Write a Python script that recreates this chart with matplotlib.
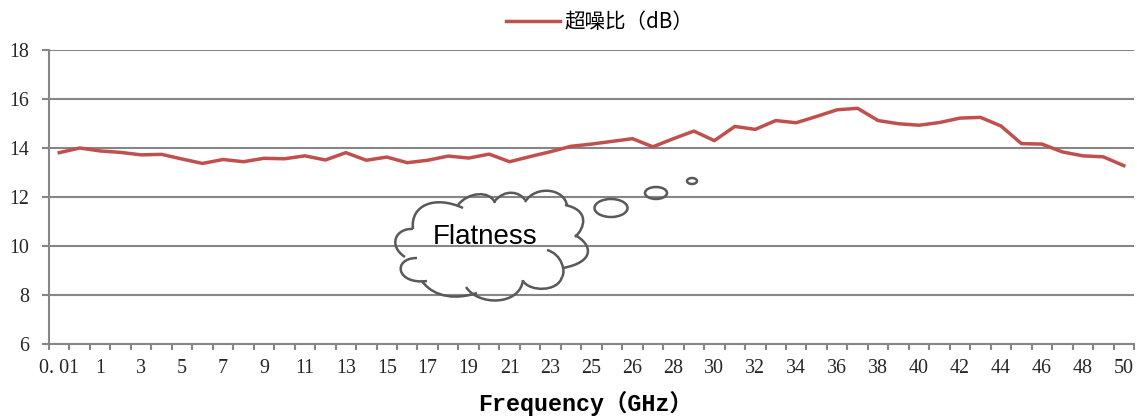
import matplotlib
matplotlib.use('Agg')
import matplotlib.pyplot as plt
from matplotlib.patches import Ellipse, PathPatch
from matplotlib.path import Path

# one value per category, the axis has 53 categories
snr = [13.81, 14.00, 13.88, 13.82, 13.72, 13.74, 13.55, 13.37, 13.53, 13.44,
       13.58, 13.56, 13.68, 13.51, 13.81, 13.50, 13.63, 13.40, 13.50, 13.67,
       13.59, 13.75, 13.44, 13.65, 13.85, 14.07, 14.16, 14.27, 14.38, 14.05,
       14.38, 14.69, 14.30, 14.88, 14.76, 15.12, 15.03, 15.29, 15.56, 15.62,
       15.12, 14.99, 14.93, 15.04, 15.22, 15.25, 14.90, 14.18, 14.16, 13.84,
       13.68, 13.64, 13.28]
x_labels = ['0. 01', '1', '3', '5', '7', '9', '11', '13', '15', '17', '19', '21',
            '23', '25', '26', '28', '30', '32', '34', '36', '38', '40', '42',
            '44', '46', '48', '50']
y_ticks = [6, 8, 10, 12, 14, 16, 18]

# callout outline: start, control, control, end of each lobe, in pixels
cloud_lobes = [
    ((413, 229), (410, 205), (435, 195), (463, 208)),
    ((458, 205), (468, 192), (490, 190), (495, 203)),
    ((494, 202), (505, 188), (520, 192), (525, 200)),
    ((525, 202), (535, 185), (565, 188), (567, 206)),
    ((565, 205), (590, 210), (585, 228), (575, 237)),
    ((575, 235), (593, 245), (595, 262), (563, 268)),
    ((547, 250), (562, 254), (566, 272), (562, 277)),
    ((562, 277), (558, 292), (530, 292), (523, 281)),
    ((523, 280), (520, 306), (478, 306), (466, 287)),
    ((477, 293), (445, 303), (428, 290), (422, 281)),
    ((427, 281), (396, 285), (392, 258), (417, 258)),
    ((405, 257), (388, 246), (395, 228), (413, 229)),
]
bubbles = [(611, 208, 33, 18), (656, 193, 22, 12), (692, 181, 10, 6)]

axis_color = '#868686'
line_color = '#C0504D'
cloud_color = '#595959'

fig = plt.figure(figsize=(11.37, 4.16), dpi=100)
ax = fig.add_axes([49 / 1137, 1 - 344 / 416, (1134 - 49) / 1137, (344 - 50) / 416])

positions = list(range(len(snr)))
ax.plot(positions, snr, color=line_color, lw=2.5, label='超噪比（dB）',
        solid_joinstyle='round', zorder=3)
ax.set_xlim(-0.5, len(snr) - 0.5)
ax.set_ylim(6, 18)

ax.set_yticks(y_ticks)
ax.grid(axis='y', color=axis_color, lw=1.5)
ax.set_axisbelow(True)
ax.set_xticks([p - 0.5 for p in range(len(snr) + 1)])
ax.set_xticklabels([])
ax.set_xticks([0] + [p for p in range(2, 29, 2)] + [p for p in range(30, 53, 2)], minor=True)
ax.set_xticklabels(x_labels, minor=True, family='Liberation Serif', fontsize=14.4, color='#262626')
ax.tick_params(axis='x', which='major', length=4.5, width=1.5, color=axis_color)
ax.tick_params(axis='x', which='minor', length=0, pad=11)
ax.tick_params(axis='y', length=5, width=1.5, color=axis_color, pad=9)
for lab in ax.get_yticklabels():
    lab.set_family('Liberation Serif')
    lab.set_fontsize(14.4)
    lab.set_color('#262626')

for side in ['top', 'right']:
    ax.spines[side].set_visible(False)
for side in ['left', 'bottom']:
    ax.spines[side].set_color(axis_color)
    ax.spines[side].set_linewidth(1.5)

ax.set_xlabel('Frequency（GHz）', family=['Liberation Mono', 'Noto Sans CJK SC'],
              fontsize=16.8, fontweight='bold', color='black')
ax.xaxis.set_label_coords((586 - 49) / 1085, -(403 - 344) / 294, transform=ax.transAxes)
ax.xaxis.label.set_verticalalignment('center')

ax.legend(loc='center', bbox_to_anchor=(600 / 1137, 1 - 22 / 416),
          bbox_transform=fig.transFigure, frameon=False, handlelength=2.6,
          handletextpad=0.25, borderpad=0,
          prop={'family': 'Noto Sans CJK SC', 'size': 14.8})

# overlay in pixel coordinates for the callout
over = fig.add_axes([0, 0, 1, 1], facecolor='none')
over.set_xlim(0, 1137)
over.set_ylim(416, 0)
over.axis('off')
for lobe in cloud_lobes:
    path = Path(lobe, [Path.MOVETO, Path.CURVE4, Path.CURVE4, Path.CURVE4])
    over.add_patch(PathPatch(path, fc='none', ec=cloud_color, lw=1.8))
for cx, cy, w, h in bubbles:
    over.add_patch(Ellipse((cx, cy), w, h, fc='none', ec=cloud_color, lw=1.8))
over.text(485, 237, 'Flatness', family='Liberation Sans', fontsize=20,
          ha='center', va='center', color='black')

fig.savefig('out.png', dpi=100)
